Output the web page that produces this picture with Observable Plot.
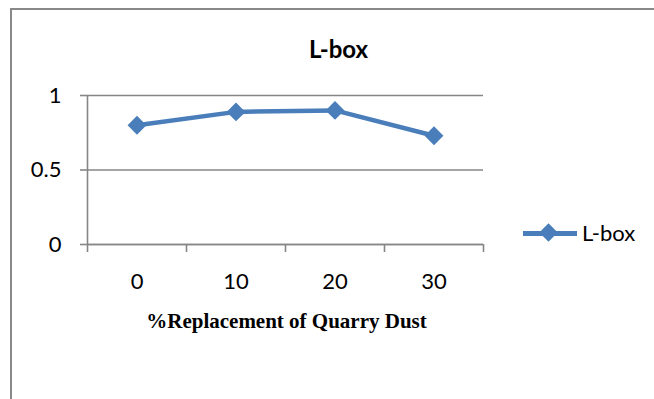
<!DOCTYPE html>
<html>
<head>
<meta charset="utf-8">
<script src="https://cdn.jsdelivr.net/npm/d3@7"></script>
<script src="https://cdn.jsdelivr.net/npm/@observablehq/plot@0.6"></script>
<style>
  html, body { margin: 0; padding: 0; background: #fff; }
  #wrap { position: relative; width: 654px; height: 399px; overflow: hidden; font-family: Lato, sans-serif; }
  #border { position: absolute; left: 10px; top: 8px; width: 760px; height: 520px; border: 2px solid #898989; box-sizing: border-box; }
  #chart { position: absolute; left: 0; top: 0; }
  .leg-line { position: absolute; left: 523px; top: 231px; width: 54px; height: 5px; background: #4A7EBB; }
  .leg-dia { position: absolute; left: 542px; top: 226px; width: 13px; height: 13px; background: #4A7EBB; transform: rotate(45deg); }
  .leg-text { position: absolute; left: 582px; top: 222px; font-size: 22px; line-height: 22px; color: #000; }
</style>
</head>
<body>
<div id="wrap">
  <div id="border"></div>
  <div id="chart"></div>
  <div class="leg-line"></div>
  <div class="leg-dia"></div>
  <div class="leg-text">L-box</div>
</div>
<script>
const title = "L-box";
const xLabel = "%Replacement of Quarry Dust";
const categories = [0, 10, 20, 30];
const lboxValues = [0.80, 0.89, 0.90, 0.73];
const yTicks = [0, 0.5, 1];

const step = categories[1] - categories[0];
const boundaries = [...categories.map(c => c - step / 2), categories[categories.length - 1] + step / 2];
const data = categories.map((c, i) => ({x: c, y: lboxValues[i]}));

const grey = "#868686";
const blue = "#4A7EBB";

const chart = Plot.plot({
  width: 654,
  height: 399,
  marginLeft: 87,
  marginRight: 171,
  marginTop: 95,
  marginBottom: 155,
  style: {fontFamily: "Lato, sans-serif", background: "transparent", color: "#000"},
  x: {domain: [boundaries[0], boundaries[boundaries.length - 1]]},
  y: {domain: [0, 1]},
  marks: [
    Plot.gridY(yTicks, {stroke: grey, strokeOpacity: 1, strokeWidth: 1.6}),
    Plot.ruleX([boundaries[0]], {y1: 0, y2: 1, stroke: grey, strokeWidth: 1.6}),
    Plot.ruleY([0], {stroke: grey, strokeWidth: 1.6}),
    Plot.axisY({ticks: yTicks, tickSize: 7, tickPadding: 19, fontSize: 22, stroke: grey, strokeWidth: 1.6, strokeOpacity: 1, fill: "#000", tickFormat: d => String(d), label: null}),
    Plot.axisX({ticks: boundaries, tickSize: 8, tickFormat: () => "", stroke: grey, strokeWidth: 1.6, strokeOpacity: 1, label: null}),
    Plot.axisX({ticks: categories, tickSize: 0, tickPadding: 29, fontSize: 22, fill: "#000", tickFormat: d => String(d), label: null}),
    Plot.line(data, {x: "x", y: "y", stroke: blue, strokeWidth: 4.5}),
    Plot.dot(data, {x: "x", y: "y", symbol: "diamond2", r: 8.5, fill: blue, stroke: "none"}),
    Plot.text([title], {frameAnchor: "top", dx: 53, dy: -38, lineAnchor: "bottom", fontSize: 24, fontWeight: "bold", fill: "#000"}),
    Plot.text([xLabel], {frameAnchor: "bottom", dx: 1, dy: 83, lineAnchor: "bottom", fontSize: 21, fontWeight: "bold", fontFamily: "Liberation Serif, serif", fill: "#000"})
  ]
});
document.getElementById("chart").appendChild(chart);
</script>
</body>
</html>
